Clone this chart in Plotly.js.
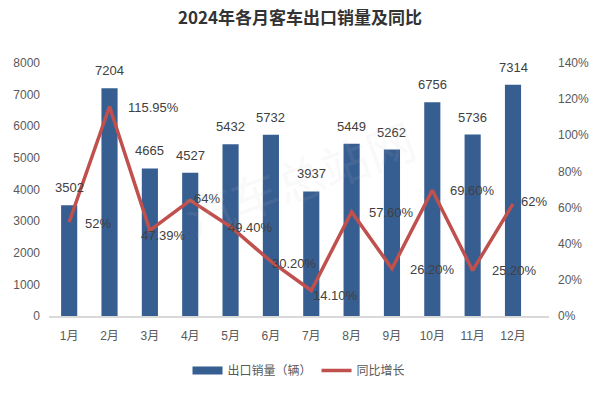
<!DOCTYPE html>
<html>
<head>
<meta charset="utf-8">
<script src="https://cdn.plot.ly/plotly-3.0.1.min.js"></script>
<style>html,body{margin:0;padding:0;background:#fff;}#chart{width:600px;height:393px;}</style>
</head>
<body>
<div id="chart"></div>
<script>
const months = ['1月','2月','3月','4月','5月','6月','7月','8月','9月','10月','11月','12月'];
const sales = [3502, 7204, 4665, 4527, 5432, 5732, 3937, 5449, 5262, 6756, 5736, 7314];
const growth = [52, 115.95, 47.39, 64, 49.40, 30.20, 14.10, 57.60, 26.20, 69.60, 25.20, 62];
const growthLabels = ['52%','115.95%','47.39%','64%','49.40%','30.20%','14.10%','57.60%','26.20%','69.60%','25.20%','62%'];
const leftTicks = [0,1000,2000,3000,4000,5000,6000,7000,8000];
const rightTicks = [0,20,40,60,80,100,120,140];

// label offsets (styling)
const gx = [14, 16, -11, 2, -5, -1, 0, 15, 16, 16, 17, 6];
const gy = [-1, -1, -5, 2, -1, -2, -5, -1, -1, 0, 0, 2];

const FONT = 'Liberation Sans, Noto Sans CJK SC, sans-serif';
const annotations = [];
months.forEach((m, i) => {
  annotations.push({x: m, y: sales[i], xref: 'x', yref: 'y', text: String(sales[i]),
    showarrow: false, yanchor: 'bottom', yshift: 8, font: {family: FONT, size: 13, color: '#404040'}});
  annotations.push({x: m, y: growth[i], xref: 'x', yref: 'y2', text: growthLabels[i],
    showarrow: false, xanchor: 'left', yanchor: 'middle', xshift: gx[i], yshift: gy[i],
    font: {family: FONT, size: 13, color: '#404040'}});
});
annotations.push({xref: 'paper', yref: 'paper', x: 0.5, y: 0.55, text: '汽车总站网', showarrow: false,
  textangle: -20, font: {family: 'Noto Sans CJK SC', size: 48, color: 'rgba(200,200,200,0.1)'}});

const traces = [
  {type: 'bar', x: months, y: sales, name: '出口销量（辆）', marker: {color: '#375E91'}, yaxis: 'y',
   cliponaxis: false, showlegend: false},
  {type: 'scatter', mode: 'lines', x: [null], y: [null], name: '出口销量（辆）', yaxis: 'y',
   line: {color: '#375E91', width: 8}, showlegend: true},
  {type: 'scatter', mode: 'lines', x: months, y: growth, name: '同比增长', yaxis: 'y2',
   line: {color: '#C0504D', width: 3.5}, cliponaxis: false}
];

const layout = {
  width: 600, height: 393,
  margin: {l: 49, r: 51, t: 63, b: 77, autoexpand: false},
  paper_bgcolor: '#fff', plot_bgcolor: '#fff',
  title: {text: '<b>2024年各月客车出口销量及同比</b>', x: 0.5, xanchor: 'center', y: 0.955, yanchor: 'middle',
    font: {family: 'Noto Sans CJK SC, sans-serif', size: 17, color: '#333'}},
  bargap: 0.6,
  showlegend: true,
  legend: {orientation: 'h', x: 0.5, xanchor: 'center', y: -0.215, yanchor: 'middle',
    font: {family: 'Noto Sans CJK SC, sans-serif', size: 12, color: '#595959'}},
  xaxis: {type: 'category', categoryarray: months, showgrid: false, zeroline: false, showline: true, linecolor: '#d9d9d9', linewidth: 1.5,
    ticks: 'outside', ticklen: 8, tickcolor: 'rgba(0,0,0,0)', automargin: false,
    tickfont: {family: FONT, size: 12, color: '#595959'}},
  yaxis: {range: [0, 8000], tickvals: leftTicks, ticktext: leftTicks.map(String), showgrid: false, zeroline: false,
    showline: false, ticks: '', ticklabelstandoff: 8, automargin: false, tickfont: {family: FONT, size: 12, color: '#595959'}},
  yaxis2: {overlaying: 'y', side: 'right', range: [0, 140], tickvals: rightTicks, ticktext: rightTicks.map(v => v + '%'),
    showgrid: false, zeroline: false, showline: false, ticks: '', ticklabelstandoff: 8, automargin: false,
    tickfont: {family: FONT, size: 12, color: '#595959'}},
  annotations: annotations
};

Plotly.newPlot('chart', traces, layout, {displayModeBar: false, staticPlot: true});
</script>
</body>
</html>
